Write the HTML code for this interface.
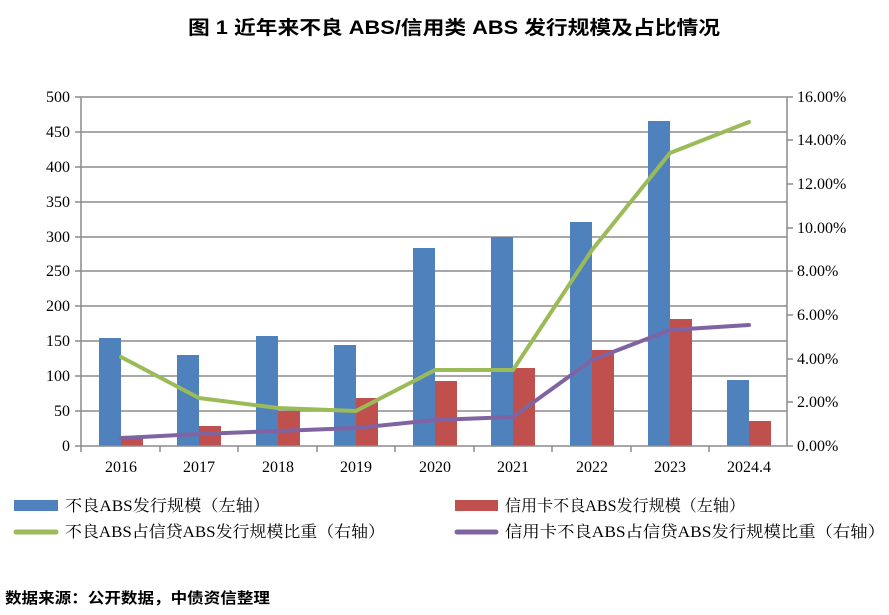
<!DOCTYPE html>
<html><head><meta charset="utf-8"><style>
html,body{margin:0;padding:0;background:#fff;}
svg{display:block;}
</style></head><body>
<svg width="889" height="615" xmlns="http://www.w3.org/2000/svg" font-family="'Liberation Serif','Noto Serif CJK SC',serif">
<text x="188" y="34" font-family="'Liberation Sans','Noto Sans CJK SC',sans-serif" font-weight="bold" font-size="19" textLength="532" lengthAdjust="spacingAndGlyphs">图 1  近年来不良 ABS/信用类 ABS 发行规模及占比情况</text>
<g stroke="#8c8c8c" stroke-width="1.5">
<line x1="81" y1="97" x2="787" y2="97"/><line x1="81" y1="132" x2="787" y2="132"/><line x1="81" y1="167" x2="787" y2="167"/><line x1="81" y1="202" x2="787" y2="202"/><line x1="81" y1="237" x2="787" y2="237"/><line x1="81" y1="271" x2="787" y2="271"/><line x1="81" y1="306" x2="787" y2="306"/><line x1="81" y1="341" x2="787" y2="341"/><line x1="81" y1="376" x2="787" y2="376"/><line x1="81" y1="411" x2="787" y2="411"/>
</g>
<g>
<rect x="99" y="338" width="22" height="108" fill="#4f81bd"/><rect x="121" y="438" width="22" height="8" fill="#c0504d"/>
<rect x="177" y="355" width="22" height="91" fill="#4f81bd"/><rect x="199" y="426" width="22" height="20" fill="#c0504d"/>
<rect x="256" y="336" width="22" height="110" fill="#4f81bd"/><rect x="278" y="411" width="22" height="35" fill="#c0504d"/>
<rect x="334" y="345" width="22" height="101" fill="#4f81bd"/><rect x="356" y="398" width="22" height="48" fill="#c0504d"/>
<rect x="413" y="248" width="22" height="198" fill="#4f81bd"/><rect x="435" y="381" width="22" height="65" fill="#c0504d"/>
<rect x="491" y="237" width="22" height="209" fill="#4f81bd"/><rect x="513" y="368" width="22" height="78" fill="#c0504d"/>
<rect x="570" y="222" width="22" height="224" fill="#4f81bd"/><rect x="592" y="350" width="22" height="96" fill="#c0504d"/>
<rect x="648" y="121" width="22" height="325" fill="#4f81bd"/><rect x="670" y="319" width="22" height="127" fill="#c0504d"/>
<rect x="727" y="380" width="22" height="66" fill="#4f81bd"/><rect x="749" y="421" width="22" height="25" fill="#c0504d"/>
</g>
<g stroke="#8c8c8c" stroke-width="1.5">
<line x1="81" y1="446" x2="787" y2="446"/>
<line x1="81" y1="97" x2="81" y2="452"/>
<line x1="787" y1="97" x2="787" y2="446"/>
<line x1="75" y1="97" x2="81" y2="97"/><line x1="75" y1="132" x2="81" y2="132"/><line x1="75" y1="167" x2="81" y2="167"/><line x1="75" y1="202" x2="81" y2="202"/><line x1="75" y1="237" x2="81" y2="237"/><line x1="75" y1="271" x2="81" y2="271"/><line x1="75" y1="306" x2="81" y2="306"/><line x1="75" y1="341" x2="81" y2="341"/><line x1="75" y1="376" x2="81" y2="376"/><line x1="75" y1="411" x2="81" y2="411"/><line x1="75" y1="446" x2="81" y2="446"/>
<line x1="787" y1="97" x2="793" y2="97"/><line x1="787" y1="140" x2="793" y2="140"/><line x1="787" y1="184" x2="793" y2="184"/><line x1="787" y1="228" x2="793" y2="228"/><line x1="787" y1="271" x2="793" y2="271"/><line x1="787" y1="315" x2="793" y2="315"/><line x1="787" y1="359" x2="793" y2="359"/><line x1="787" y1="402" x2="793" y2="402"/><line x1="787" y1="446" x2="793" y2="446"/>
<line x1="160" y1="446" x2="160" y2="452"/><line x1="238" y1="446" x2="238" y2="452"/><line x1="317" y1="446" x2="317" y2="452"/><line x1="395" y1="446" x2="395" y2="452"/><line x1="474" y1="446" x2="474" y2="452"/><line x1="552" y1="446" x2="552" y2="452"/><line x1="631" y1="446" x2="631" y2="452"/><line x1="709" y1="446" x2="709" y2="452"/>
</g>
<polyline fill="none" stroke="#9bbb59" stroke-width="4" stroke-linejoin="round" stroke-linecap="round" points="121,357 199,398 278,408 356,411 435,370 513,370 592,250 670,153 749,122"/>
<polyline fill="none" stroke="#8064a2" stroke-width="4" stroke-linejoin="round" stroke-linecap="round" points="121,438 199,434 278,431 356,428 435,420 513,417 592,360 670,330 749,325"/>
<g font-size="16" fill="#000" text-anchor="end">
<text x="70" y="102">500</text><text x="70" y="137">450</text><text x="70" y="172">400</text><text x="70" y="207">350</text><text x="70" y="242">300</text><text x="70" y="276">250</text><text x="70" y="311">200</text><text x="70" y="346">150</text><text x="70" y="381">100</text><text x="70" y="416">50</text><text x="70" y="451">0</text>
</g>
<g font-size="16" fill="#000">
<text x="797" y="102">16.00%</text><text x="797" y="145">14.00%</text><text x="797" y="189">12.00%</text><text x="797" y="233">10.00%</text><text x="797" y="276">8.00%</text><text x="797" y="320">6.00%</text><text x="797" y="364">4.00%</text><text x="797" y="407">2.00%</text><text x="797" y="451">0.00%</text>
</g>
<g font-size="16" fill="#000" text-anchor="middle">
<text x="121" y="472">2016</text><text x="199" y="472">2017</text><text x="278" y="472">2018</text><text x="356" y="472">2019</text><text x="435" y="472">2020</text><text x="513" y="472">2021</text><text x="592" y="472">2022</text><text x="670" y="472">2023</text><text x="749" y="472">2024.4</text>
</g>
<rect x="14" y="500" width="44" height="11" fill="#4f81bd"/>
<rect x="455" y="500" width="43" height="11" fill="#c0504d"/>
<line x1="16" y1="532" x2="56" y2="532" stroke="#9bbb59" stroke-width="5" stroke-linecap="round"/>
<line x1="457" y1="532" x2="496" y2="532" stroke="#8064a2" stroke-width="5" stroke-linecap="round"/>
<g font-size="16" fill="#000">
<text x="65" y="511" textLength="205" lengthAdjust="spacingAndGlyphs">不良ABS发行规模（左轴）</text>
<text x="505" y="511" textLength="240" lengthAdjust="spacingAndGlyphs">信用卡不良ABS发行规模（左轴）</text>
<text x="65" y="537" textLength="320" lengthAdjust="spacingAndGlyphs">不良ABS占信贷ABS发行规模比重（右轴）</text>
<text x="505" y="537" textLength="380" lengthAdjust="spacingAndGlyphs">信用卡不良ABS占信贷ABS发行规模比重（右轴）</text>
</g>
<text x="5" y="603" font-family="'Liberation Sans','Noto Sans CJK SC',sans-serif" font-weight="bold" font-size="15" textLength="265" lengthAdjust="spacingAndGlyphs">数据来源：公开数据，中债资信整理</text>
</svg>
</body></html>
